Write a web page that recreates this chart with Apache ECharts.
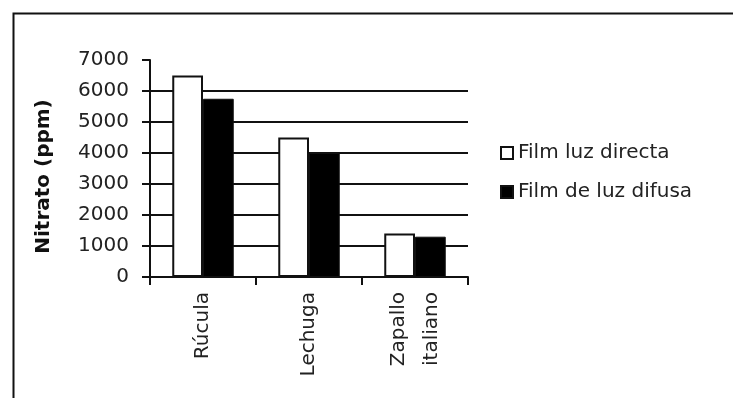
<!DOCTYPE html>
<html>
<head>
<meta charset="utf-8">
<script src="https://cdn.jsdelivr.net/npm/echarts@6/dist/echarts.min.js"></script>
<style>html,body{margin:0;padding:0;background:#fff;}#c{width:733px;height:398px;}</style>
</head>
<body>
<div id="c"></div>
<script>
const categories = ['Rúcula', 'Lechuga', 'Zapallo\nitaliano'];
const seriesNames = ['Film luz directa', 'Film de luz difusa'];
const directa = [6500, 4500, 1400];
const difusa = [5750, 4000, 1300];
const yTicks = { min: 0, max: 7000, interval: 1000 };

const chart = echarts.init(document.getElementById('c'), null, { renderer: 'canvas' });
const font = 'DejaVu Sans';
const ink = '#111';
chart.setOption({
  animation: false,
  backgroundColor: '#fff',
  graphic: [{
    type: 'rect', left: 11, top: 11, silent: true,
    shape: { width: 900, height: 600 },
    style: { fill: 'none', stroke: ink, lineWidth: 2 }
  }],
  grid: { left: 150, right: 265, top: 60, bottom: 121, containLabel: false },
  legend: {
    orient: 'vertical', left: 495, top: 138, itemGap: 19,
    itemWidth: 12, itemHeight: 12, icon: 'rect',
    textStyle: { fontFamily: font, fontSize: 20, color: '#222' },
    data: seriesNames
  },
  xAxis: {
    type: 'category', data: categories,
    axisLine: { lineStyle: { color: ink, width: 2 } },
    axisTick: { show: true, length: 8, lineStyle: { color: ink, width: 2 } },
    axisLabel: { rotate: 90, margin: 15, fontFamily: font, fontSize: 20, color: '#222', lineHeight: 33 }
  },
  yAxis: {
    type: 'value', min: yTicks.min, max: yTicks.max, interval: yTicks.interval,
    name: 'Nitrato (ppm)', nameLocation: 'middle', nameGap: 96,
    nameTextStyle: { fontFamily: font, fontSize: 20, fontWeight: 'bold', color: '#111', padding: [0, 16, 0, 0] },
    axisLine: { show: true, lineStyle: { color: ink, width: 2 } },
    axisTick: { show: true, length: 8, lineStyle: { color: ink, width: 2 } },
    axisLabel: { margin: 21, fontFamily: font, fontSize: 20, color: '#222', formatter: v => String(v) },
    splitLine: { show: true, lineStyle: { width: 2, color: [ink, ink, ink, ink, ink, ink, ink, 'rgba(0,0,0,0)'] } }
  },
  series: [
    { name: seriesNames[0], type: 'bar', data: directa, barGap: '0%', barCategoryGap: '42%',
      itemStyle: { color: '#fff', borderColor: ink, borderWidth: 2 } },
    { name: seriesNames[1], type: 'bar', data: difusa,
      itemStyle: { color: '#000', borderColor: ink, borderWidth: 1 } }
  ]
});
</script>
</body>
</html>
